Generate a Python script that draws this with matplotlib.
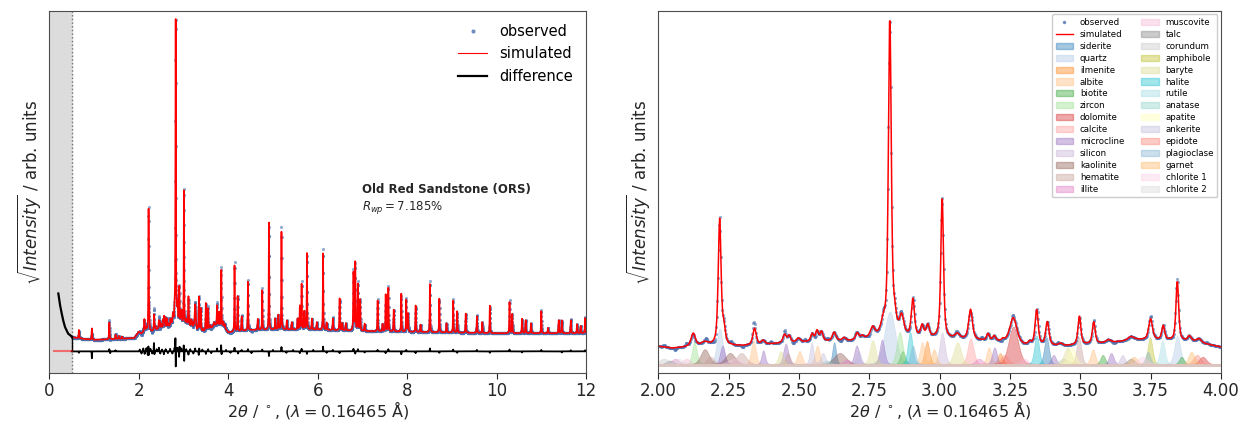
import numpy as np
import matplotlib.pyplot as plt
from matplotlib.lines import Line2D
from matplotlib.patches import Patch

# sample / refinement info
sample = 'Old Red Sandstone (ORS)'
rwp = 7.185
wavelength = 0.16465

# smooth background under the pattern (2theta, sqrt intensity)
bg_tt = [0.5, 0.8, 1.0, 1.5, 1.9, 2.0, 2.05, 2.1, 2.2, 2.3, 2.4, 2.5, 2.6, 2.7,
         2.75, 2.8, 2.9, 3.0, 3.1, 3.2, 3.3, 3.45, 3.6, 3.7, 3.8, 3.9, 4.0,
         4.5, 5.0, 6.0, 7.0, 8.0, 9.0, 10.0, 12.0]
bg_int = [9.8, 9.3, 9.1, 9.3, 9.6, 11.3, 10.8, 11.1, 11.4, 11.4, 11.9, 12.4, 12.6,
          12.7, 13.4, 13.8, 13.6, 13.3, 13.0, 12.5, 11.4, 11.4, 12.2, 13.0, 12.9,
          12.6, 11.1, 11.8, 11.9, 11.9, 11.5, 11.3, 11.1, 10.9, 10.9]

# data below the cut-off (excluded region)
low_tt = [0.2, 0.24, 0.275, 0.31, 0.35, 0.42, 0.5]
low_int = [21.9, 18.6, 16.4, 14.4, 12.6, 10.8, 10.0]

# reflections: position, height above background, fwhm
peak_tt = [0.66, 0.95, 1.34, 1.48, 1.55, 1.62,
           2.124, 2.165, 2.218, 2.233, 2.342, 2.372, 2.449, 2.465, 2.498, 2.547,
           2.564, 2.580, 2.625, 2.66, 2.707, 2.725, 2.762, 2.800, 2.823, 2.840,
           2.865, 2.905, 2.938, 2.958, 3.009, 3.063, 3.110, 3.172, 3.194, 3.225,
           3.262, 3.320, 3.345, 3.383, 3.430, 3.497, 3.548, 3.600, 3.680, 3.750,
           3.795, 3.845, 3.888, 3.922,
           4.14, 4.21, 4.30, 4.44, 4.66, 4.76, 4.91, 5.05, 5.12, 5.19, 5.31, 5.42,
           5.55, 5.60, 5.64, 5.70, 5.76, 5.87, 5.98, 6.12, 6.20, 6.34, 6.49, 6.55,
           6.63, 6.80, 6.84, 6.90, 6.95, 7.05, 7.34, 7.45, 7.52, 7.58, 7.70, 7.87,
           7.98, 8.02, 8.19, 8.30, 8.51, 8.72, 8.88, 9.03, 9.12, 9.31, 9.56, 9.68,
           9.85, 10.29, 10.35, 10.57, 10.65, 10.77, 11.00, 11.15, 11.39, 11.46,
           11.66, 11.80, 11.88, 11.98]
peak_h = [2.3, 3.1, 4.6, 1.2, 0.8, 0.6,
          3.5, 1.0, 33.5, 4.0, 4.4, 1.0, 2.2, 1.8, 1.0, 2.0,
          2.8, 2.5, 2.3, 0.8, 1.9, 0.8, 2.5, 3.0, 85.0, 4.0,
          5.0, 10.0, 3.0, 3.2, 38.0, 1.3, 8.0, 1.8, 1.3, 0.6,
          7.0, 0.8, 9.5, 6.3, 0.6, 7.7, 5.8, 0.8, 1.0, 5.6,
          3.8, 16.0, 1.3, 1.0,
          18.3, 9.7, 4.0, 13.4, 3.0, 10.9, 29.6, 3.0, 4.0, 27.0, 2.5, 2.0,
          3.0, 6.5, 12.5, 5.0, 21.1, 3.0, 2.0, 21.1, 2.0, 3.2, 8.8, 2.0,
          2.0, 16.0, 18.8, 12.8, 8.6, 2.0, 8.5, 2.0, 10.2, 12.0, 6.0, 10.5,
          8.8, 5.0, 7.3, 2.0, 13.3, 9.3, 2.5, 8.8, 5.9, 5.3, 4.6, 3.0,
          7.6, 8.6, 5.3, 4.0, 3.6, 2.7, 6.1, 1.5, 3.6, 3.6,
          3.6, 2.5, 2.0, 4.2]
peak_w = [0.014, 0.014, 0.015, 0.015, 0.015, 0.015,
          0.018, 0.030, 0.012, 0.012, 0.014, 0.015, 0.014, 0.012, 0.015, 0.012,
          0.012, 0.012, 0.015, 0.015, 0.014, 0.012, 0.018, 0.020, 0.012, 0.015,
          0.018, 0.013, 0.013, 0.013, 0.011, 0.020, 0.016, 0.012, 0.012, 0.012,
          0.030, 0.012, 0.013, 0.014, 0.015, 0.012, 0.012, 0.020, 0.025, 0.016,
          0.012, 0.011, 0.014, 0.020,
          0.012, 0.012, 0.015, 0.012, 0.015, 0.012, 0.012, 0.015, 0.015, 0.012,
          0.015, 0.015, 0.015, 0.012, 0.012, 0.015, 0.012, 0.015, 0.015, 0.012,
          0.015, 0.015, 0.013, 0.015, 0.015, 0.015, 0.014, 0.014, 0.013, 0.015,
          0.013, 0.015, 0.013, 0.013, 0.014, 0.013, 0.013, 0.015, 0.013, 0.015,
          0.013, 0.013, 0.015, 0.013, 0.013, 0.014, 0.014, 0.015, 0.013, 0.013,
          0.014, 0.015, 0.015, 0.015, 0.013, 0.015, 0.015, 0.015, 0.015, 0.015,
          0.015, 0.015, 0.015]

# obs - calc residual spikes
res_tt = [0.66, 0.95, 1.34, 1.36, 1.48, 2.02, 2.06, 2.10, 2.13, 2.17, 2.20, 2.215,
          2.222, 2.26, 2.30, 2.338, 2.35, 2.40, 2.45, 2.48, 2.52, 2.56, 2.60, 2.65,
          2.70, 2.75, 2.80, 2.818, 2.826, 2.86, 2.90, 2.91, 2.95, 3.005, 3.013,
          3.06, 3.11, 3.15, 3.22, 3.26, 3.34, 3.35, 3.42, 3.50, 3.55, 3.62, 3.75,
          3.84, 3.85, 3.95, 4.05, 4.14, 4.22, 4.30, 4.44, 4.52, 4.76, 4.91, 5.00,
          5.19, 5.30, 5.45, 5.60, 5.64, 5.76, 5.90, 6.12, 6.20, 6.34, 6.49, 6.80,
          6.84, 6.90, 7.05, 7.34, 7.52, 7.58, 7.87, 7.98, 8.19, 8.51, 8.72, 9.03,
          9.12, 9.56, 9.85, 10.29, 10.57, 11.00, 11.46, 11.66, 11.98]
res_h = [-0.4, -1.9, 0.6, -0.5, 0.3, 0.5, -0.6, 0.8, -0.7, 0.9, -1.0, 1.5,
         -1.2, 0.7, -0.6, 2.3, -0.8, 0.6, 1.0, -0.6, 0.5, -0.8, 0.6, -0.5,
         0.7, -0.6, 1.0, 3.9, -4.4, 1.0, -1.5, 1.3, 0.8, 1.8, -2.8,
         0.6, -0.9, 0.6, -0.6, 0.8, -1.0, 0.8, 0.5, -0.7, 0.6, -0.5, 0.8,
         1.7, -0.8, 0.4, -0.4, 1.0, -0.6, 0.4, 0.6, -0.5, 0.5, -1.3, 0.4,
         1.2, -0.4, 0.4, -0.5, 0.7, -0.7, 0.4, 1.3, -0.4, 0.4, -0.5, 0.7,
         -0.6, 0.6, -0.3, 0.4, -0.5, 0.6, -0.8, 0.4, -0.5, 0.8, -0.4, 0.5,
         -0.4, 0.4, -0.4, 0.5, -0.3, 0.4, -0.3, 0.3, 0.3]
diff_level = 5.9

# phase contributions in the zoomed window
phases = ['siderite', 'quartz', 'ilmenite', 'albite', 'biotite', 'zircon', 'dolomite',
          'calcite', 'microcline', 'silicon', 'kaolinite', 'hematite', 'illite',
          'muscovite', 'talc', 'corundum', 'amphibole', 'baryte', 'halite', 'rutile',
          'anatase', 'apatite', 'ankerite', 'epidote', 'plagioclase', 'garnet',
          'chlorite 1', 'chlorite 2']
phase_colors = list(plt.get_cmap('tab20').colors) + [
    '#8dd3c7', '#ffffb3', '#bebada', '#fb8072', '#80b1d3', '#fdb462', '#fccde5', '#d9d9d9']

comp_phase = ['zircon', 'zircon', 'kaolinite', 'kaolinite', 'kaolinite', 'hematite', 'hematite',
              'hematite', 'quartz', 'quartz', 'quartz', 'microcline', 'microcline', 'microcline',
              'microcline', 'microcline', 'microcline', 'microcline', 'microcline', 'silicon',
              'silicon', 'ankerite', 'ankerite', 'albite', 'albite', 'albite', 'albite', 'albite',
              'albite', 'ilmenite', 'ilmenite', 'siderite', 'siderite', 'dolomite', 'dolomite',
              'calcite', 'halite', 'halite', 'baryte', 'baryte', 'baryte', 'baryte', 'amphibole',
              'rutile', 'biotite', 'biotite', 'biotite', 'garnet', 'garnet', 'epidote', 'apatite',
              'plagioclase', 'plagioclase', 'muscovite', 'muscovite', 'illite', 'illite', 'talc',
              'corundum', 'anatase', 'chlorite 1', 'chlorite 2', 'ankerite', 'epidote', 'garnet',
              'hematite', 'talc', 'illite', 'chlorite 1', 'corundum']
comp_tt = [2.128, 2.858, 2.165, 2.255, 2.645, 2.185, 2.295, 3.495, 2.218, 2.823, 3.845,
           2.228, 2.373, 2.453, 2.705, 2.795, 3.195, 3.405, 3.61, 3.009, 3.65, 2.545, 2.712,
           2.338, 2.502, 2.565, 2.938, 3.175, 3.545, 2.955, 3.215, 2.625, 3.38, 3.262, 3.935,
           3.11, 2.895, 3.345, 2.435, 2.762, 3.063, 3.455, 3.748, 3.792, 2.868, 3.58, 3.86,
           3.895, 3.69, 3.915, 3.47, 2.905, 3.74, 2.10, 3.30, 2.06, 2.67, 2.04, 2.02, 2.60,
           2.27, 2.07, 2.585, 3.23, 2.98, 2.46, 3.68, 3.14, 3.72, 3.44]
comp_h = [5.9, 8.6, 4.0, 3.0, 3.0, 2.0, 3.0, 7.2, 9.5, 14.0, 7.5,
          5.0, 3.7, 5.5, 5.0, 6.6, 4.5, 2.5, 3.0, 8.5, 2.5, 5.9, 3.5,
          6.4, 3.5, 5.0, 5.9, 4.5, 4.0, 6.2, 3.0, 5.9, 7.2, 10.0, 2.0,
          6.9, 8.6, 7.7, 3.5, 6.4, 5.9, 4.5, 7.2, 6.4, 3.5, 2.5, 2.0,
          3.3, 2.0, 2.5, 4.5, 5.0, 3.3, 1.5, 1.5, 1.5, 1.2, 1.0, 1.5, 1.0,
          1.5, 1.5, 3.0, 2.5, 4.0, 3.0, 1.5, 1.5, 2.0, 1.5]
comp_w = [0.02, 0.025, 0.035, 0.04, 0.05, 0.03, 0.04, 0.02, 0.025, 0.045, 0.025,
          0.02, 0.015, 0.02, 0.02, 0.02, 0.02, 0.02, 0.02, 0.022, 0.02, 0.015, 0.02,
          0.02, 0.02, 0.02, 0.02, 0.02, 0.02, 0.02, 0.02, 0.015, 0.02, 0.04, 0.03,
          0.025, 0.02, 0.02, 0.02, 0.025, 0.03, 0.03, 0.02, 0.02, 0.02, 0.02, 0.02,
          0.025, 0.03, 0.03, 0.03, 0.02, 0.02, 0.03, 0.03, 0.03, 0.03, 0.03, 0.04, 0.03,
          0.05, 0.04, 0.02, 0.03, 0.02, 0.02, 0.03, 0.03, 0.04, 0.04]
comp_base = 6.1
comp_floor = 0.45


def pseudo_voigt(x, x0, h, w, eta=0.6):
    d = (x - x0) / w
    return h * (eta / (1 + 4 * d ** 2) + (1 - eta) * np.exp(-4 * np.log(2) * d ** 2))


tt = np.arange(0.5, 12.0001, 0.002)
calc = np.interp(tt, bg_tt, bg_int)
for x0, h, w in zip(peak_tt, peak_h, peak_w):
    calc += pseudo_voigt(tt, x0, h, w)
resid = np.zeros_like(tt)
for x0, h in zip(res_tt, res_h):
    resid += pseudo_voigt(tt, x0, h, 0.008, eta=0.0)
obs = calc + resid
diff = diff_level + resid

plt.rcParams['axes.edgecolor'] = '0.3'
plt.rcParams['xtick.color'] = '0.15'
plt.rcParams['axes.labelcolor'] = '0.15'

fig = plt.figure(figsize=(12.41, 4.23), dpi=100)
xlabel = r'$2\theta$ / $^\circ$, ($\lambda = %s$ Å)' % wavelength
ylabel = r'$\sqrt{Intensity}$ / arb. units'

# full pattern
ax = fig.add_axes([0.0398, 0.1189, 0.4324, 0.8551])
ax.axvspan(0, 0.5, color='#dcdcdc', zorder=0)
ax.axvline(0.5, color='0.45', ls=':', lw=1)
ax.plot(tt, obs, '.', color='#4c72b0', ms=4.5, alpha=0.6, mew=0)
ax.plot(tt, calc, color='red', lw=1.2)
ax.plot(tt, diff, color='black', lw=1.3)
ax.plot(low_tt, low_int, color='black', lw=1.6)
ax.plot([0.5, 0.5], [diff_level, bg_int[0]], color='black', lw=1)
ax.plot([0.1, 0.5], [diff_level, diff_level], color='red', alpha=0.5, lw=1.5)
ax.text(7.0, 49.7, sample, fontsize=8.5, fontweight='bold', color='0.15')
ax.text(7.0, 45.0, r'$R_{wp} = %s$%%' % rwp, fontsize=8.5, color='0.15')
ax.set_xlim(0, 12)
ax.set_ylim(0, 100)
ax.set_yticks([])
ax.tick_params(axis='x', labelsize=12, direction='out', length=4.5, pad=2.5)
ax.set_xlabel(xlabel, fontsize=11.5, labelpad=-1)
ax.set_ylabel(ylabel, fontsize=12)
handles = [Line2D([], [], ls='none', marker='.', color='#4c72b0', ms=4, alpha=0.7),
           Line2D([], [], color='red', lw=0.8),
           Line2D([], [], color='black', lw=1.6)]
ax.legend(handles, ['observed', 'simulated', 'difference'], loc='upper right',
          frameon=False, fontsize=10.5, labelspacing=0.5, numpoints=1)

# zoomed window with phase contributions
ax = fig.add_axes([0.5305, 0.1189, 0.4533, 0.8551])
win = (tt >= 2.0) & (tt <= 4.0)
xw = tt[win]
handles = [Line2D([], [], ls='none', marker='.', color='#4c72b0', ms=3, alpha=0.7),
           Line2D([], [], color='red', lw=1)]
for name, col in zip(phases, phase_colors):
    comp = np.full_like(xw, comp_floor)
    for p, x0, h, w in zip(comp_phase, comp_tt, comp_h, comp_w):
        if p == name:
            comp += pseudo_voigt(xw, x0, h, w, eta=0.2)
    ax.fill_between(xw, comp_base, comp_base + comp, color=col, alpha=0.4, lw=0.5)
    handles.append(Patch(facecolor=col, edgecolor=col, alpha=0.4))
ax.plot(xw, obs[win], '.', color='#4c72b0', ms=4.5, alpha=0.6, mew=0)
ax.plot(xw, calc[win], color='red', lw=1.1)
ax.set_xlim(2, 4)
ax.set_ylim(4.3, 100.4)
ax.set_yticks([])
ax.set_xticks(np.arange(2.0, 4.01, 0.25))
ax.xaxis.set_major_formatter('{x:.2f}')
ax.tick_params(axis='x', labelsize=12, direction='out', length=4.5, pad=2.5)
ax.set_xlabel(xlabel, fontsize=11.5, labelpad=-1)
ax.set_ylabel(ylabel, fontsize=12)
ax.legend(handles, ['observed', 'simulated'] + phases, loc='upper right', ncol=2,
          fontsize=6.2, framealpha=1, labelspacing=0.34, borderaxespad=0.4)

fig.savefig('out.png', dpi=100)
